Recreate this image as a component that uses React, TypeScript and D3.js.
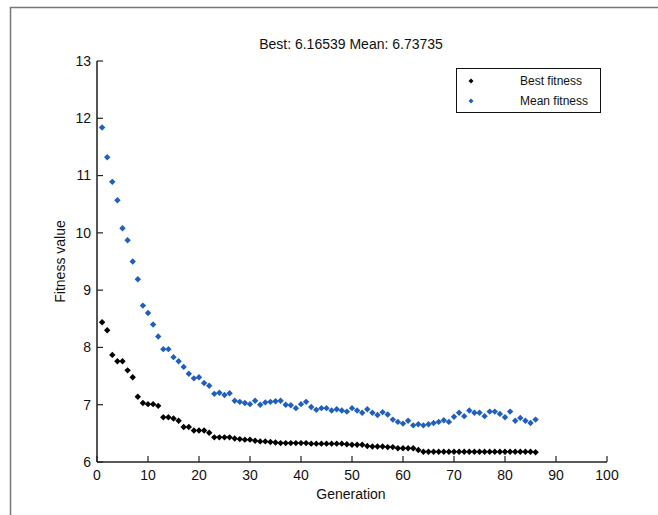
import React from "react";
import * as d3 from "d3";

const generations: number[] = Array.from({ length: 86 }, (_, i) => i + 1);

const bestFitness: number[] = [
  8.44, 8.3, 7.87, 7.76, 7.76, 7.6, 7.48, 7.14, 7.03, 7.01,
  7.01, 6.98, 6.78, 6.78, 6.76, 6.72, 6.61, 6.61, 6.55, 6.55,
  6.55, 6.51, 6.43, 6.43, 6.43, 6.43, 6.41, 6.4, 6.39, 6.39,
  6.37, 6.36, 6.36, 6.35, 6.34, 6.33, 6.33, 6.33, 6.33, 6.33,
  6.33, 6.32, 6.32, 6.32, 6.32, 6.32, 6.32, 6.32, 6.31, 6.3,
  6.3, 6.3, 6.28, 6.27, 6.27, 6.27, 6.26, 6.26, 6.24, 6.24,
  6.24, 6.24, 6.21, 6.18, 6.18, 6.18, 6.18, 6.18, 6.18, 6.18,
  6.18, 6.18, 6.18, 6.18, 6.18, 6.18, 6.18, 6.18, 6.18, 6.18,
  6.18, 6.18, 6.18, 6.18, 6.18, 6.17,
];

const meanFitness: number[] = [
  11.84, 11.32, 10.89, 10.57, 10.08, 9.87, 9.5, 9.19, 8.73, 8.6,
  8.4, 8.19, 7.97, 7.97, 7.83, 7.76, 7.66, 7.54, 7.46, 7.48,
  7.38, 7.33, 7.19, 7.21, 7.17, 7.2, 7.07, 7.05, 7.03, 7.01,
  7.07, 7.0, 7.04, 7.05, 7.06, 7.07, 7.0, 6.99, 6.94, 7.01,
  7.05, 6.96, 6.91, 6.94, 6.94, 6.9, 6.92, 6.9, 6.88, 6.94,
  6.9, 6.86, 6.92, 6.86, 6.82, 6.87, 6.83, 6.74, 6.7, 6.67,
  6.72, 6.64, 6.66, 6.64, 6.66, 6.68, 6.7, 6.73, 6.7, 6.79,
  6.86, 6.8, 6.9, 6.86, 6.86, 6.8, 6.88, 6.88, 6.84, 6.78,
  6.88, 6.72, 6.77, 6.72, 6.68, 6.74,
];

const xTicks: number[] = [0, 10, 20, 30, 40, 50, 60, 70, 80, 90, 100];
const yTicks: number[] = [6, 7, 8, 9, 10, 11, 12, 13];

const titleText = "Best: 6.16539 Mean: 6.73735";
const xLabel = "Generation";
const yLabel = "Fitness value";
const legendLabels = ["Best fitness", "Mean fitness"];

const BLUE = "#1f5fbd";
const FONT = "'Liberation Sans', Arial, sans-serif";

export default function App() {
  const W = 658;
  const H = 515;
  const left = 97;
  const right = 607;
  const top = 61;
  const bottom = 462;

  const x = d3.scaleLinear().domain([0, 100]).range([left, right]);
  const y = d3.scaleLinear().domain([6, 13]).range([bottom, top]);

  const diamond = "M0,-3.2L3.2,0L0,3.2L-3.2,0Z";
  const legendDiamond = "M0,-2.5L2.5,0L0,2.5L-2.5,0Z";

  const series = [
    { values: bestFitness, color: "#000", label: legendLabels[0] },
    { values: meanFitness, color: BLUE, label: legendLabels[1] },
  ];

  return (
    <svg
      width={W}
      height={H}
      style={{ position: "absolute", left: 0, top: 0, background: "#fff" }}
      fontFamily={FONT}
    >
      <rect x={0} y={0} width={W} height={H} fill="#fff" />
      {/* outer frame */}
      <path d={`M10.5,${H}V7.5H${W}`} fill="none" stroke="#777" strokeWidth={1.5} />

      {/* title */}
      <text x={351} y={49} textAnchor="middle" fontSize={14} fill="#111">
        {titleText}
      </text>

      {/* y axis */}
      <line x1={left} x2={left} y1={top} y2={bottom} stroke="#555" strokeWidth={2} />
      {yTicks.map((t) => (
        <g key={"y" + t}>
          <line x1={left} x2={left + 6} y1={y(t)} y2={y(t)} stroke="#222" strokeWidth={1.2} />
          <text x={left - 6} y={y(t)} dy="0.35em" textAnchor="end" fontSize={14} fill="#111">
            {t}
          </text>
        </g>
      ))}

      {/* x axis */}
      <line x1={left} x2={right} y1={bottom} y2={bottom} stroke="#222" strokeWidth={1.5} />
      {xTicks.map((t) => (
        <g key={"x" + t}>
          <line x1={x(t)} x2={x(t)} y1={bottom} y2={bottom - 6} stroke="#222" strokeWidth={1.2} />
          <text x={x(t)} y={bottom + 18} textAnchor="middle" fontSize={14} fill="#111">
            {t}
          </text>
        </g>
      ))}

      <text x={351} y={499} textAnchor="middle" fontSize={14} fill="#111">
        {xLabel}
      </text>
      <text
        transform={`translate(65,${(top + bottom) / 2}) rotate(-90)`}
        textAnchor="middle"
        fontSize={14}
        fill="#111"
      >
        {yLabel}
      </text>

      {/* data */}
      {series.map((s) => (
        <g key={s.label}>
          {s.values.map((v, i) => (
            <path
              key={i}
              d={diamond}
              transform={`translate(${x(generations[i])},${y(v)})`}
              fill={s.color}
            />
          ))}
        </g>
      ))}

      {/* legend */}
      <rect x={456.5} y={68.5} width={144} height={44} fill="#fff" stroke="#111" strokeWidth={1} />
      {series.map((s, i) => (
        <g key={"lg" + i}>
          <path d={legendDiamond} transform={`translate(471,${81 + i * 20})`} fill={s.color} />
          <text x={520} y={81 + i * 20} dy="0.35em" fontSize={12} fill="#111">
            {s.label}
          </text>
        </g>
      ))}
    </svg>
  );
}
